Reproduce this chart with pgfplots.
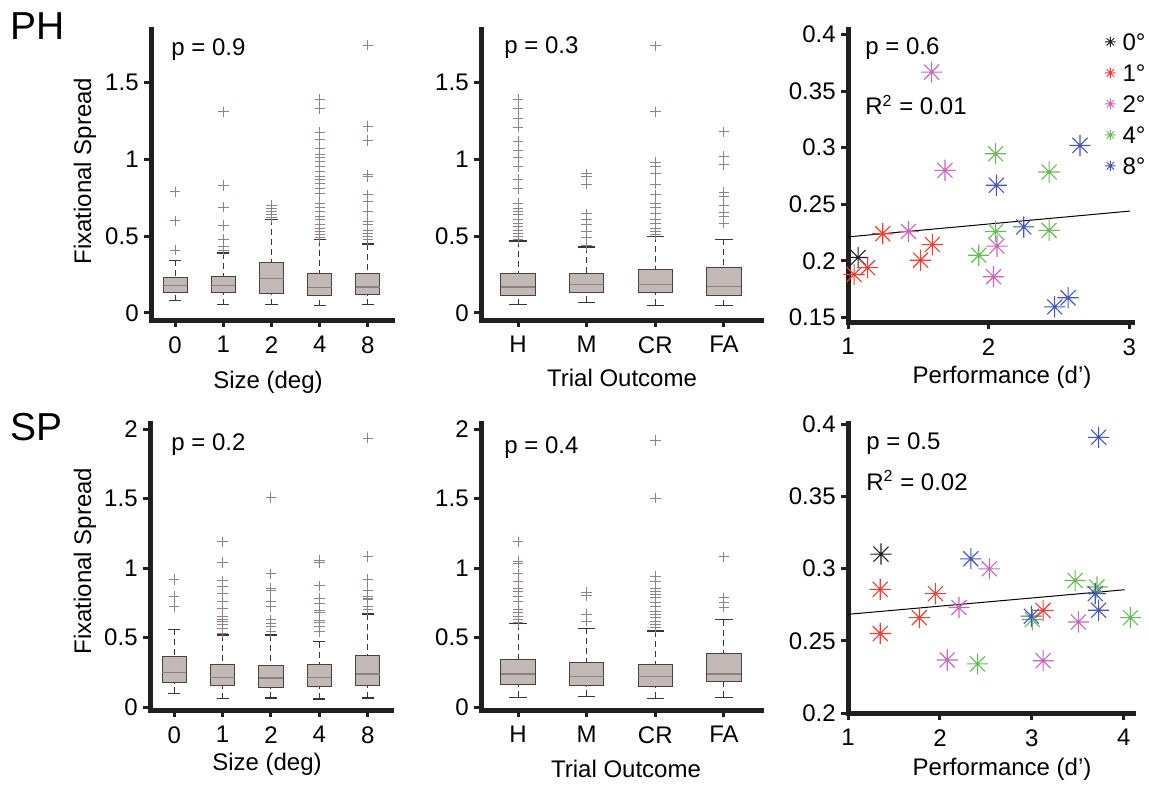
\documentclass[border=0pt]{standalone}
\usepackage{fontspec}
\setmainfont{Liberation Sans}
\usepackage{pgfplots}
\pgfplotsset{compat=1.18}
\usepgfplotslibrary{statistics}
\definecolor{axcol}{HTML}{231F20}
\definecolor{boxfill}{HTML}{C2B8B6}
\definecolor{boxedge}{HTML}{4A4242}
\definecolor{medcol}{HTML}{8C7F7D}
\definecolor{outcol}{HTML}{8F8280}
\definecolor{whcol}{HTML}{3B3434}
\definecolor{c0}{HTML}{222222}
\definecolor{c1}{HTML}{FF3B2F}
\definecolor{c2}{HTML}{CC66BB}
\definecolor{c4}{HTML}{66BB55}
\definecolor{c8}{HTML}{4455BB}

\pgfdeclareplotmark{mstar}{%
  \pgfpathmoveto{\pgfqpoint{-\pgfplotmarksize}{0pt}}%
  \pgfpathlineto{\pgfqpoint{\pgfplotmarksize}{0pt}}%
  \pgfpathmoveto{\pgfqpoint{0pt}{-\pgfplotmarksize}}%
  \pgfpathlineto{\pgfqpoint{0pt}{\pgfplotmarksize}}%
  \pgfpathmoveto{\pgfqpoint{-0.7071\pgfplotmarksize}{-0.7071\pgfplotmarksize}}%
  \pgfpathlineto{\pgfqpoint{0.7071\pgfplotmarksize}{0.7071\pgfplotmarksize}}%
  \pgfpathmoveto{\pgfqpoint{-0.7071\pgfplotmarksize}{0.7071\pgfplotmarksize}}%
  \pgfpathlineto{\pgfqpoint{0.7071\pgfplotmarksize}{-0.7071\pgfplotmarksize}}%
  \pgfusepathqstroke
  \pgfpathcircle{\pgfpointorigin}{0.13\pgfplotmarksize}%
  \pgfusepathqfill
}

\newcommand\tfont{\fontsize{12}{14}\selectfont}

\pgfplotsset{
  base/.style={
    scale only axis, axis lines=left,
    axis line style={-, line width=2.5pt, color=axcol, line cap=rect},
    tick align=outside, major tick length=3.5pt,
    tick style={line width=1.5pt, color=axcol},
    minor tick num=0,
    tick label style={font=\tfont, inner sep=0pt},
    xticklabel style={anchor=north, yshift=-4.5pt},
    yticklabel style={anchor=east, xshift=-2.5pt},
    /pgf/number format/assume math mode=true,
    scaled y ticks=false,
    clip=false,
    boxplot/draw direction=y,
  },
  bp/.style={
    draw=boxedge, line width=0.5pt, mark=+, mark size=2.6pt,
    mark options={draw=outcol, solid, line width=0.5pt},
    boxplot/draw direction=y,
    boxplot/every box/.style={draw=boxedge, fill=boxfill, line width=0.5pt},
    boxplot/every median/.style={draw=medcol, line width=0.7pt},
    boxplot/box extend=0.5, boxplot/whisker extend=0.25,
    boxplot/draw/lower whisker/.code={%
      \draw[whcol, dash pattern=on 3pt off 2pt, line width=0.5pt]
        (boxplot cs:\pgfplotsboxplotvalue{lower whisker}) --
        (boxplot cs:\pgfplotsboxplotvalue{lower quartile});
      \draw[whcol, solid, line width=0.7pt]
        (boxplot whisker cs:\pgfplotsboxplotvalue{lower whisker},0) --
        (boxplot whisker cs:\pgfplotsboxplotvalue{lower whisker},1);
    },
    boxplot/draw/upper whisker/.code={%
      \draw[whcol, dash pattern=on 3pt off 2pt, line width=0.5pt]
        (boxplot cs:\pgfplotsboxplotvalue{upper whisker}) --
        (boxplot cs:\pgfplotsboxplotvalue{upper quartile});
      \draw[whcol, solid, line width=0.7pt]
        (boxplot whisker cs:\pgfplotsboxplotvalue{upper whisker},0) --
        (boxplot whisker cs:\pgfplotsboxplotvalue{upper whisker},1);
    },
  },
  sc/.style={only marks, mark=mstar, mark size=5.3pt, line width=0.55pt, color=#1},
}

\begin{document}
\begin{tikzpicture}

% ---------------- Top left: PH size ----------------
\begin{axis}[base, at={(75.5pt,-160pt)}, anchor=south west, width=120.5pt, height=145pt,
  xmin=0.5, xmax=5.5, ymin=-0.046, ymax=1.844,
  xtick={1,2,3,4,5}, xticklabels={0,1,2,4,8},
  ytick={0,0.5,1,1.5}, yticklabels={0,0.5,1,1.5}]
\addplot[bp, boxplot prepared={draw position=1, lower whisker=0.08, lower quartile=0.134, median=0.18, upper quartile=0.228, upper whisker=0.343}]
  table[row sep=\\, y index=0] {0.41\\0.60\\0.79\\};
\addplot[bp, boxplot prepared={draw position=2, lower whisker=0.054, lower quartile=0.134, median=0.18, upper quartile=0.238, upper whisker=0.39}]
  table[row sep=\\, y index=0] {0.41\\0.43\\0.48\\0.57\\0.69\\0.83\\1.31\\};
\addplot[bp, boxplot prepared={draw position=3, lower whisker=0.054, lower quartile=0.126, median=0.225, upper quartile=0.33, upper whisker=0.61}]
  table[row sep=\\, y index=0] {0.62\\0.64\\0.66\\0.68\\0.70\\};
\addplot[bp, boxplot prepared={draw position=4, lower whisker=0.048, lower quartile=0.113, median=0.167, upper quartile=0.26, upper whisker=0.477}]
  table[row sep=\\, y index=0] {0.49\\0.51\\0.53\\0.55\\0.575\\0.61\\0.63\\0.66\\0.69\\0.715\\0.78\\0.81\\0.845\\0.87\\0.89\\0.92\\0.955\\0.99\\1.01\\1.03\\1.07\\1.13\\1.175\\1.33\\1.39\\};
\addplot[bp, boxplot prepared={draw position=5, lower whisker=0.054, lower quartile=0.12, median=0.17, upper quartile=0.256, upper whisker=0.45}]
  table[row sep=\\, y index=0] {0.477\\0.5\\0.52\\0.54\\0.575\\0.596\\0.66\\0.726\\0.77\\0.89\\0.90\\1.123\\1.214\\1.745\\};
\end{axis}

% ---------------- Top middle: PH outcome ----------------
\begin{axis}[base, at={(240.5pt,-160pt)}, anchor=south west, width=140pt, height=145pt,
  xmin=0.46, xmax=4.54, ymin=-0.046, ymax=1.844,
  xtick={1,2,3,4}, xticklabels={H,M,CR,FA},
  ytick={0,0.5,1,1.5}, yticklabels={0,0.5,1,1.5}]
\addplot[bp, boxplot prepared={draw position=1, lower whisker=0.054, lower quartile=0.113, median=0.17, upper quartile=0.256, upper whisker=0.47}]
  table[row sep=\\, y index=0] {0.48\\0.5\\0.52\\0.54\\0.565\\0.585\\0.61\\0.64\\0.66\\0.68\\0.715\\0.81\\0.87\\0.955\\1.01\\1.06\\1.12\\1.21\\1.27\\1.33\\1.39\\};
\addplot[bp, boxplot prepared={draw position=2, lower whisker=0.069, lower quartile=0.134, median=0.184, upper quartile=0.256, upper whisker=0.43}]
  table[row sep=\\, y index=0] {0.44\\0.49\\0.53\\0.575\\0.61\\0.645\\0.84\\0.89\\0.906\\};
\addplot[bp, boxplot prepared={draw position=3, lower whisker=0.05, lower quartile=0.134, median=0.184, upper quartile=0.282, upper whisker=0.5}]
  table[row sep=\\, y index=0] {0.51\\0.53\\0.55\\0.58\\0.61\\0.65\\0.69\\0.715\\0.77\\0.84\\0.91\\0.955\\0.98\\1.31\\1.74\\};
\addplot[bp, boxplot prepared={draw position=4, lower whisker=0.048, lower quartile=0.115, median=0.173, upper quartile=0.293, upper whisker=0.48}]
  table[row sep=\\, y index=0] {0.585\\0.63\\0.655\\0.70\\0.76\\0.785\\0.965\\1.02\\1.18\\};
\end{axis}

% ---------------- Top right: PH performance ----------------
\begin{axis}[base, at={(424pt,-161pt)}, anchor=south west, width=142pt, height=146pt,
  xmin=1, xmax=3.02, ymin=0.146, ymax=0.404,
  xtick={1,2,3}, xticklabels={1,2,3},
  ytick={0.15,0.2,0.25,0.3,0.35,0.4}, yticklabels={0.15,0.2,0.25,0.3,0.35,0.4},
  legend style={draw=none, fill=none, at={(axis description cs:0.904,0.99)}, anchor=north west,
    row sep=6.9pt, column sep=3.5pt, inner sep=0pt,
    nodes={inner sep=0pt, text height=8.6pt, text depth=0pt, font=\tfont}},
  legend cell align=left,
  legend image code/.code={\draw[#1, mark size=2.6pt, line width=0.45pt] plot coordinates {(0pt,0pt)};}]
\addplot[black, line width=0.5pt, forget plot] coordinates {(1,0.2212) (3.005,0.244)};
\addplot[sc=c0] coordinates {(1.072,0.203)};
\addlegendentry{0°}
\addplot[sc=c1] coordinates {(1.043,0.188) (1.139,0.194) (1.247,0.224) (1.516,0.2006) (1.60,0.2144)};
\addlegendentry{1°}
\addplot[sc=c2] coordinates {(1.595,0.3668) (1.43,0.226) (1.69,0.28) (2.06,0.213) (2.035,0.186)};
\addlegendentry{2°}
\addplot[sc=c4] coordinates {(2.05,0.2947) (2.05,0.226) (1.93,0.205) (2.43,0.2785) (2.43,0.227)};
\addlegendentry{4°}
\addplot[sc=c8] coordinates {(2.65,0.302) (2.055,0.2668) (2.25,0.23) (2.47,0.1594) (2.565,0.1674)};
\addlegendentry{8°}
\end{axis}

% ---------------- Bottom left: SP size ----------------
\begin{axis}[base, at={(75pt,-355pt)}, anchor=south west, width=121pt, height=143.5pt,
  xmin=0.5, xmax=5.5, ymin=-0.02, ymax=2.045,
  xtick={1,2,3,4,5}, xticklabels={0,1,2,4,8},
  ytick={0,0.5,1,1.5,2}, yticklabels={0,0.5,1,1.5,2}]
\addplot[bp, boxplot prepared={draw position=1, lower whisker=0.10, lower quartile=0.177, median=0.249, upper quartile=0.365, upper whisker=0.561}]
  table[row sep=\\, y index=0] {0.724\\0.80\\0.92\\};
\addplot[bp, boxplot prepared={draw position=2, lower whisker=0.062, lower quartile=0.153, median=0.216, upper quartile=0.309, upper whisker=0.52}]
  table[row sep=\\, y index=0] {0.532\\0.568\\0.592\\0.616\\0.633\\0.652\\0.712\\0.76\\0.82\\0.868\\0.91\\1.04\\1.19\\};
\addplot[bp, boxplot prepared={draw position=3, lower whisker=0.065, lower quartile=0.141, median=0.209, upper quartile=0.297, upper whisker=0.52}]
  table[row sep=\\, y index=0] {0.544\\0.58\\0.604\\0.628\\0.724\\0.76\\0.84\\0.856\\0.96\\1.51\\};
\addplot[bp, boxplot prepared={draw position=4, lower whisker=0.058, lower quartile=0.149, median=0.216, upper quartile=0.305, upper whisker=0.472}]
  table[row sep=\\, y index=0] {0.544\\0.58\\0.609\\0.624\\0.681\\0.695\\0.748\\0.784\\0.873\\1.04\\1.055\\};
\addplot[bp, boxplot prepared={draw position=5, lower whisker=0.065, lower quartile=0.156, median=0.24, upper quartile=0.372, upper whisker=0.67}]
  table[row sep=\\, y index=0] {0.70\\0.724\\0.772\\0.784\\0.796\\0.84\\0.92\\1.084\\1.935\\};
\end{axis}

% ---------------- Bottom middle: SP outcome ----------------
\begin{axis}[base, at={(240.5pt,-355pt)}, anchor=south west, width=140pt, height=143.5pt,
  xmin=0.46, xmax=4.54, ymin=-0.02, ymax=2.045,
  xtick={1,2,3,4}, xticklabels={H,M,CR,FA},
  ytick={0,0.5,1,1.5,2}, yticklabels={0,0.5,1,1.5,2}]
\addplot[bp, boxplot prepared={draw position=1, lower whisker=0.071, lower quartile=0.167, median=0.238, upper quartile=0.345, upper whisker=0.602}]
  table[row sep=\\, y index=0] {0.607\\0.631\\0.655\\0.683\\0.702\\0.762\\0.80\\0.833\\0.857\\0.905\\0.96\\1.036\\1.048\\1.19\\};
\addplot[bp, boxplot prepared={draw position=2, lower whisker=0.079, lower quartile=0.155, median=0.221, upper quartile=0.321, upper whisker=0.567}]
  table[row sep=\\, y index=0] {0.619\\0.667\\0.802\\0.826\\};
\addplot[bp, boxplot prepared={draw position=3, lower whisker=0.064, lower quartile=0.148, median=0.219, upper quartile=0.31, upper whisker=0.548}]
  table[row sep=\\, y index=0] {0.571\\0.595\\0.619\\0.643\\0.667\\0.69\\0.726\\0.755\\0.786\\0.81\\0.833\\0.857\\0.905\\0.94\\1.505\\1.92\\};
\addplot[bp, boxplot prepared={draw position=4, lower whisker=0.071, lower quartile=0.183, median=0.238, upper quartile=0.386, upper whisker=0.631}]
  table[row sep=\\, y index=0] {0.721\\0.75\\0.786\\1.083\\};
\end{axis}

% ---------------- Bottom right: SP performance ----------------
\begin{axis}[base, at={(424pt,-356.5pt)}, anchor=south west, width=142.5pt, height=145pt,
  xmin=1, xmax=4.1, ymin=0.2, ymax=0.4007,
  xtick={1,2,3,4}, xticklabels={1,2,3,4},
  ytick={0.2,0.25,0.3,0.35,0.4}, yticklabels={0.2,0.25,0.3,0.35,0.4}]
\addplot[black, line width=0.5pt] coordinates {(1,0.2683) (4.008,0.2853)};
\addplot[sc=c0] coordinates {(1.359,0.310)};
\addplot[sc=c1] coordinates {(1.351,0.2856) (1.351,0.255) (1.776,0.266) (1.951,0.2826) (3.122,0.271)};
\addplot[sc=c2] coordinates {(2.537,0.2998) (2.207,0.273) (2.079,0.2367) (3.122,0.2362) (3.506,0.263)};
\addplot[sc=c4] coordinates {(2.409,0.234) (3.005,0.2647) (3.47,0.2917) (3.708,0.2872) (4.073,0.266)};
\addplot[sc=c8] coordinates {(3.726,0.3908) (2.336,0.3067) (2.994,0.267) (3.689,0.2826) (3.726,0.2711)};
\end{axis}

% ---------------- Text ----------------
\begin{scope}[x=0.5pt, y=-0.5pt]
\node[font=\fontsize{19.5}{22}\selectfont, anchor=base west, inner sep=0pt] at (10,40) {PH};
\node[font=\fontsize{19.5}{22}\selectfont, anchor=base west, inner sep=0pt] at (10,440) {SP};

\node[font=\tfont, anchor=base west, inner sep=0pt] at (171,56) {p = 0.9};
\node[font=\tfont, anchor=base west, inner sep=0pt] at (504,54) {p = 0.3};
\node[font=\tfont, anchor=base west, inner sep=0pt] at (865,55) {p = 0.6};
\node[font=\tfont, anchor=base west, inner sep=0pt] at (865,115) {R\textsuperscript{2} = 0.01};
\node[font=\tfont, anchor=base west, inner sep=0pt] at (171,450) {p = 0.2};
\node[font=\tfont, anchor=base west, inner sep=0pt] at (504,453) {p = 0.4};
\node[font=\tfont, anchor=base west, inner sep=0pt] at (866,449) {p = 0.5};
\node[font=\tfont, anchor=base west, inner sep=0pt] at (866,490) {R\textsuperscript{2} = 0.02};

\node[font=\tfont, anchor=base, inner sep=0pt] at (268,388) {Size (deg)};
\node[font=\tfont, anchor=base, inner sep=0pt] at (622,386) {Trial Outcome};
\node[font=\tfont, anchor=base, inner sep=0pt] at (1002,383) {Performance (d’)};
\node[font=\tfont, anchor=base, inner sep=0pt] at (267,770) {Size (deg)};
\node[font=\tfont, anchor=base, inner sep=0pt] at (626,777) {Trial Outcome};
\node[font=\tfont, anchor=base, inner sep=0pt] at (1002,775) {Performance (d’)};

\node[font=\tfont, anchor=base, inner sep=0pt, rotate=90] at (91,171) {Fixational Spread};
\node[font=\tfont, anchor=base, inner sep=0pt, rotate=90] at (91,561) {Fixational Spread};
\end{scope}

\pgfresetboundingbox
\path[use as bounding box] (0pt,0pt) rectangle (574.5pt,-395.5pt);
\end{tikzpicture}
\end{document}
